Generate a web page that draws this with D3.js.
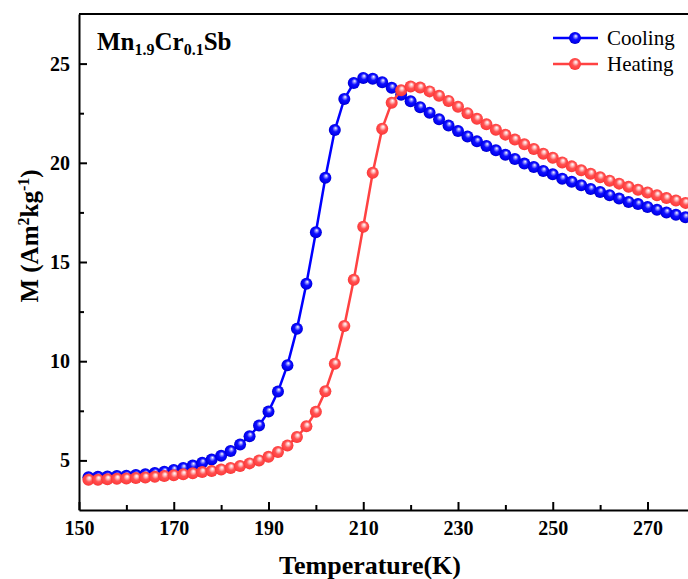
<!DOCTYPE html>
<html>
<head>
<meta charset="utf-8">
<script src="https://cdn.jsdelivr.net/npm/d3@7"></script>
<style>
  body { margin: 0; background: #fff; }
  svg { display: block; font-family: "Liberation Serif", "Times New Roman", serif; }
</style>
</head>
<body>
<svg id="chart"></svg>
<script>
const temps = [152, 154, 156, 158, 160, 162, 164, 166, 168, 170, 172, 174, 176, 178, 180, 182,
  184, 186, 188, 190, 192, 194, 196, 198, 200, 202, 204, 206, 208, 210, 212, 214,
  216, 218, 220, 222, 224, 226, 228, 230, 232, 234, 236, 238, 240, 242, 244, 246,
  248, 250, 252, 254, 256, 258, 260, 262, 264, 266, 268, 270, 272, 274, 276, 278];

const cooling = [4.15, 4.17, 4.19, 4.21, 4.23, 4.26, 4.30, 4.36, 4.43, 4.52, 4.62, 4.74, 4.88, 5.04, 5.23, 5.47,
  5.80, 6.22, 6.76, 7.46, 8.47, 9.80, 11.63, 13.90, 16.50, 19.25, 21.65, 23.22, 24.02, 24.28, 24.24, 24.06,
  23.78, 23.43, 23.10, 22.80, 22.52, 22.19, 21.88, 21.60, 21.33, 21.08, 20.85, 20.63, 20.41, 20.19, 19.96, 19.79,
  19.59, 19.42, 19.20, 19.04, 18.87, 18.68, 18.53, 18.37, 18.20, 18.03, 17.92, 17.77, 17.63, 17.50, 17.38, 17.26];

const heating = [4.02, 4.03, 4.05, 4.07, 4.09, 4.11, 4.14, 4.17, 4.21, 4.25, 4.30, 4.35, 4.41, 4.47, 4.54, 4.62,
  4.72, 4.85, 5.00, 5.18, 5.42, 5.75, 6.18, 6.72, 7.45, 8.48, 9.87, 11.78, 14.10, 16.78, 19.50, 21.72,
  23.03, 23.66, 23.85, 23.79, 23.60, 23.38, 23.12, 22.82, 22.50, 22.22, 21.94, 21.67, 21.42, 21.17, 20.93, 20.70,
  20.46, 20.26, 20.02, 19.82, 19.62, 19.45, 19.27, 19.10, 18.95, 18.79, 18.64, 18.50, 18.36, 18.22, 18.10, 17.98];

const xMajor = [150, 170, 190, 210, 230, 250, 270];
const xMinor = [160, 180, 200, 220, 240, 260];
const yMajor = [5, 10, 15, 20, 25];
const yMinor = [7.5, 12.5, 17.5, 22.5];

const series = [
  { name: 'Cooling', values: cooling, color: '#0000ff', grad: 'gBlue' },
  { name: 'Heating', values: heating, color: '#ff4242', grad: 'gRed' }
];

const W = 688, H = 579;
const mLeft = 79, mTop = 14, mBottom = 510;

const svg = d3.select('#chart').attr('width', W).attr('height', H);

// sphere look for markers
const defs = svg.append('defs');
function sphere(id, stops) {
  const g = defs.append('radialGradient').attr('id', id)
    .attr('cx', '50%').attr('cy', '50%').attr('r', '55%')
    .attr('fx', '58%').attr('fy', '32%');
  stops.forEach(s => g.append('stop').attr('offset', s[0]).attr('stop-color', s[1]));
}
sphere('gBlue', [['0%', '#ffffff'], ['18%', '#9a9aff'], ['45%', '#1010ff'], ['80%', '#0000ee'], ['100%', '#0000a8']]);
sphere('gRed', [['0%', '#ffffff'], ['22%', '#ffc0c0'], ['50%', '#ff5252'], ['85%', '#ff3c3c'], ['100%', '#d82828']]);

// plot runs past the right edge of the window, as in the reference crop
const x = d3.scaleLinear().domain([150, 290]).range([mLeft, mLeft + 140 * 94.75 / 20]);
const y = d3.scaleLinear().domain([2.5, 27.5]).range([mBottom, mTop]);

// frame top
svg.append('line')
  .attr('x1', mLeft).attr('x2', x(290)).attr('y1', y(27.5)).attr('y2', y(27.5))
  .attr('stroke', '#000').attr('stroke-width', 2);

// x axis
svg.append('g')
  .attr('transform', `translate(0,${mBottom})`)
  .call(d3.axisBottom(x).tickValues(xMinor).tickSizeInner(-5).tickSizeOuter(0).tickFormat(''))
  .call(g => g.select('.domain').remove())
  .call(g => g.selectAll('line').attr('stroke-width', 2));

svg.append('g')
  .attr('transform', `translate(0,${mBottom})`)
  .call(d3.axisBottom(x).tickValues(xMajor).tickSizeInner(-8).tickSizeOuter(0).tickPadding(11).tickFormat(d3.format('d')))
  .call(g => g.select('.domain').attr('stroke-width', 2))
  .call(g => g.selectAll('line').attr('stroke-width', 2))
  .call(g => g.selectAll('text')
    .attr('font-family', '"Liberation Serif", serif')
    .attr('font-size', 20).attr('font-weight', 'bold').attr('fill', '#000'));

// y axis
svg.append('g')
  .attr('transform', `translate(${mLeft},0)`)
  .call(d3.axisLeft(y).tickValues(yMinor).tickSizeInner(-5).tickSizeOuter(0).tickFormat(''))
  .call(g => g.select('.domain').remove())
  .call(g => g.selectAll('line').attr('stroke-width', 2));

svg.append('g')
  .attr('transform', `translate(${mLeft},0)`)
  .call(d3.axisLeft(y).tickValues(yMajor).tickSizeInner(-8).tickSizeOuter(0).tickPadding(9))
  .call(g => g.select('.domain').attr('stroke-width', 2))
  .call(g => g.selectAll('line').attr('stroke-width', 2))
  .call(g => g.selectAll('text')
    .attr('font-family', '"Liberation Serif", serif')
    .attr('font-size', 20).attr('font-weight', 'bold').attr('fill', '#000'));

// curves
const plot = svg.append('g');
const line = d3.line().x((d, i) => x(temps[i])).y(d => y(d));

series.forEach(s => {
  plot.append('path')
    .datum(s.values)
    .attr('fill', 'none')
    .attr('stroke', s.color)
    .attr('stroke-width', 2.5)
    .attr('d', line);

  plot.append('g').selectAll('circle')
    .data(s.values)
    .join('circle')
    .attr('cx', (d, i) => x(temps[i]))
    .attr('cy', d => y(d))
    .attr('r', 6)
    .attr('fill', `url(#${s.grad})`);
});

// legend
const legend = svg.append('g').attr('transform', 'translate(553,38)');
series.forEach((s, i) => {
  const row = legend.append('g').attr('transform', `translate(0,${i * 26})`);
  row.append('line').attr('x1', 0).attr('x2', 45).attr('y1', 0).attr('y2', 0)
    .attr('stroke', s.color).attr('stroke-width', 2.5);
  row.append('circle').attr('cx', 22).attr('cy', 0).attr('r', 6).attr('fill', `url(#${s.grad})`);
  row.append('text').attr('x', 54).attr('y', 7)
    .attr('font-size', 21).attr('fill', '#000').text(s.name);
});

// sample name
const title = svg.append('text').attr('x', 97).attr('y', 50)
  .attr('font-size', 25).attr('font-weight', 'bold');
title.append('tspan').text('Mn');
title.append('tspan').attr('font-size', 16).attr('dy', 5).text('1.9');
title.append('tspan').attr('dy', -5).text('Cr');
title.append('tspan').attr('font-size', 16).attr('dy', 5).text('0.1');
title.append('tspan').attr('dy', -5).text('Sb');

// axis titles
svg.append('text')
  .attr('x', 370).attr('y', 574)
  .attr('text-anchor', 'middle')
  .attr('font-size', 26).attr('font-weight', 'bold')
  .text('Temperature(K)');

const yl = svg.append('text')
  .attr('transform', 'translate(38,236) rotate(-90)')
  .attr('text-anchor', 'middle')
  .attr('font-size', 25).attr('font-weight', 'bold');
yl.append('tspan').text('M (Am');
yl.append('tspan').attr('font-size', 16).attr('dy', -9).text('2');
yl.append('tspan').attr('dy', 9).text('kg');
yl.append('tspan').attr('font-size', 16).attr('dy', -9).text('-1');
yl.append('tspan').attr('dy', 9).text(')');
</script>
</body>
</html>
